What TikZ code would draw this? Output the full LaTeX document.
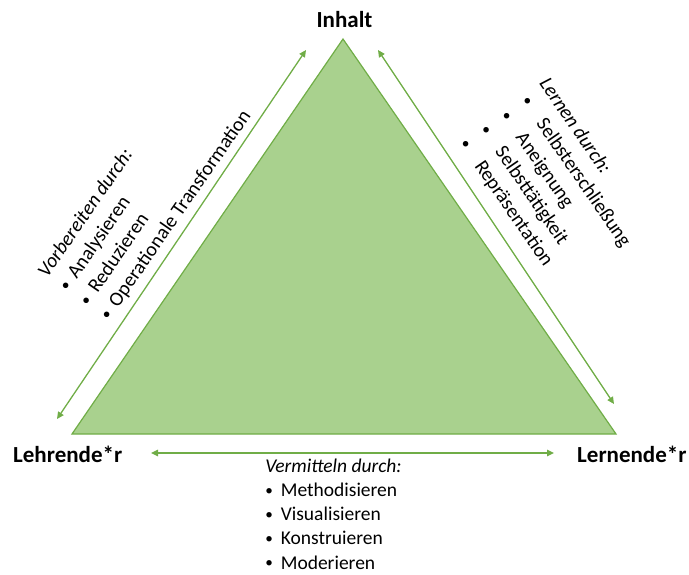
\documentclass[tikz,border=0pt]{standalone}
\usepackage{fontspec}
\setmainfont{Carlito}
\usetikzlibrary{arrows.meta}
\definecolor{trifill}{HTML}{A9D18E}
\definecolor{triedge}{HTML}{70AD47}
\definecolor{arrgreen}{HTML}{70AD47}
\newcommand{\mybul}{\raisebox{0.12ex}{\scalebox{0.78}{\textbullet}}}
\tikzset{
  corner/.style={font=\fontsize{23}{28}\selectfont\bfseries, inner sep=0pt},
  sidetext/.style={font=\fontsize{20}{25}\selectfont, align=left, inner sep=0pt},
  bottomtext/.style={font=\fontsize{19.5}{24.2}\selectfont, align=left, inner sep=0pt},
  dblarrow/.style={draw=arrgreen, line width=1.3pt, {Triangle[length=7pt,width=6.5pt]}-{Triangle[length=7pt,width=6.5pt]}},
}
\begin{document}
\begin{tikzpicture}[x=1pt,y=-1pt]
\useasboundingbox (0,0) rectangle (689,574);
% triangle
\coordinate (apex) at (343,39);
\coordinate (bl) at (72,434);
\coordinate (br) at (616,434);
\path[fill=trifill, draw=triedge, line width=1.2pt, line join=miter] (apex) -- (br) -- (bl) -- cycle;
% corner labels
\node[corner, anchor=base] (inhalt) at (344.5,27) {Inhalt};
\node[corner, anchor=base west] (lehr) at (13,462) {Lehrende*r};
\node[corner, anchor=base west] (lern) at (577,462) {Lernende*r};
% arrows
\coordinate (la1) at (57,419);
\coordinate (la2) at (306,50);
\coordinate (ra1) at (378,50);
\coordinate (ra2) at (614,404);
\coordinate (ba1) at (151,453);
\coordinate (ba2) at (554,453);
\draw[dblarrow] (la1) -- (la2);
\draw[dblarrow] (ra1) -- (ra2);
\draw[dblarrow] (ba1) -- (ba2);
% side texts
\node[sidetext, rotate=55.3] (vorb) at (145,194) {\textit{Vorbereiten durch:}\\
\mybul\hspace{8pt}Analysieren\\
\mybul\hspace{8pt}Reduzieren\\
\mybul\hspace{8pt}Operationale Transformation};
\node[sidetext, rotate=-55.4] (lernen) at (555,186) {\hspace{-4pt}\textit{Lernen durch:}\\
\mybul\hspace{19pt}Selbsterschließung\\
\mybul\hspace{19pt}Aneignung\\
\mybul\hspace{19pt}Selbsttätigkeit\\
\mybul\hspace{19pt}Repräsentation};
\node[bottomtext] (verm) at (333.5,514) {\textit{Vermitteln durch:}\\
\mybul\hspace{8pt}Methodisieren\\
\mybul\hspace{8pt}Visualisieren\\
\mybul\hspace{8pt}Konstruieren\\
\mybul\hspace{8pt}Moderieren};
\end{tikzpicture}
\end{document}
